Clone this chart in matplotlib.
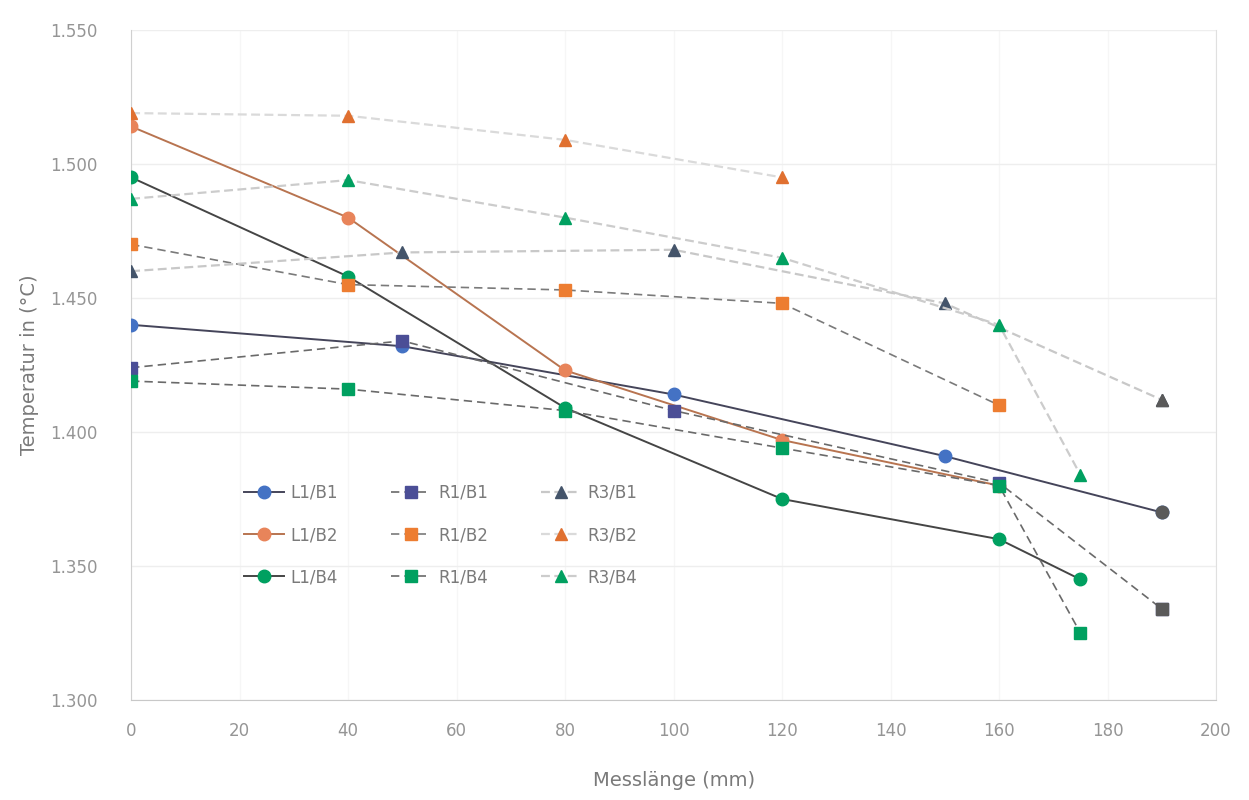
import matplotlib
matplotlib.use("Agg")
import matplotlib.pyplot as plt
from matplotlib.ticker import FuncFormatter

# ---- data (x in mm, temperature in °C) ----
x_L1B1 = [0, 50, 100, 150, 190]
y_L1B1 = [1440, 1432, 1414, 1391, 1370]
x_L1B2 = [0, 40, 80, 120, 160]
y_L1B2 = [1514, 1480, 1423, 1397, 1380]
x_L1B4 = [0, 40, 80, 120, 160, 175]
y_L1B4 = [1495, 1458, 1409, 1375, 1360, 1345]

x_R1B1 = [0, 50, 100, 160, 190]
y_R1B1 = [1424, 1434, 1408, 1381, 1334]
x_R1B2 = [0, 40, 80, 120, 160]
y_R1B2 = [1470, 1455, 1453, 1448, 1410]
x_R1B4 = [0, 40, 80, 120, 160, 175]
y_R1B4 = [1419, 1416, 1408, 1394, 1380, 1325]

x_R3B1 = [0, 50, 100, 150, 190]
y_R3B1 = [1460, 1467, 1468, 1448, 1412]
x_R3B2 = [0, 40, 80, 120]
y_R3B2 = [1519, 1518, 1509, 1495]
x_R3B4 = [0, 40, 80, 120, 160, 175]
y_R3B4 = [1487, 1494, 1480, 1465, 1440, 1384]

labels = ["L1/B1", "L1/B2", "L1/B4", "R1/B1", "R1/B2", "R1/B4", "R3/B1", "R3/B2", "R3/B4"]
xs = [x_L1B1, x_L1B2, x_L1B4, x_R1B1, x_R1B2, x_R1B4, x_R3B1, x_R3B2, x_R3B4]
ys = [y_L1B1, y_L1B2, y_L1B4, y_R1B1, y_R1B2, y_R1B4, y_R3B1, y_R3B2, y_R3B4]
gray_last = ["L1/B1", "R1/B1", "R3/B1"]

x_ticks = list(range(0, 201, 20))
y_ticks = [1300, 1350, 1400, 1450, 1500, 1550]

# ---- styles ----
mcolors = ["#4472C4", "#E8845A", "#00A060",
           "#4B4E96", "#ED7D31", "#00A060",
           "#44546A", "#E07030", "#00A060"]
markers = ["o", "o", "o", "s", "s", "s", "^", "^", "^"]
lcolors = ["#45455A", "#B87450", "#454545",
           "#6A6A6A", "#7A7A7A", "#6A6A6A",
           "#C8C8C8", "#DADADA", "#CCCCCC"]
lstyles = ["-", "-", "-",
           (0, (5, 3)), (0, (5, 3)), (0, (5, 3)),
           (0, (4, 2)), (0, (4, 2)), (0, (4, 2))]
lwidths = [1.4, 1.4, 1.4, 1.2, 1.2, 1.2, 1.6, 1.6, 1.6]

fig = plt.figure(figsize=(12.49, 8.0), dpi=100)
ax = fig.add_axes([0.105, 0.125, 0.8686, 0.8375])

handles = []
for lab, x, y, mc, mk, lc, ls, lw in zip(labels, xs, ys, mcolors, markers, lcolors, lstyles, lwidths):
    h, = ax.plot(x, y, color=lc, linestyle=ls, linewidth=lw, marker=mk,
                 markersize=9, markerfacecolor=mc, markeredgecolor=mc, label=lab, zorder=3)
    handles.append(h)
    if lab in gray_last:
        ax.plot(x[-1:], y[-1:], linestyle="none", marker=mk, markersize=9,
                markerfacecolor="#5A5A5A", markeredgecolor="#5A5A5A", zorder=4)

ax.set_xlim(0, 200)
ax.set_ylim(1300, 1550)
ax.set_xticks(x_ticks)
ax.set_yticks(y_ticks)
ax.yaxis.set_major_formatter(FuncFormatter(lambda v, p: f"{int(v):,}".replace(",", ".")))

ax.grid(axis="y", color="#EEEEEE", linewidth=1.0, zorder=0)
ax.grid(axis="x", color="#F6F6F6", linewidth=1.0, zorder=0)
ax.spines["top"].set_visible(False)
ax.spines["right"].set_color("#E0E0E0")
ax.spines["left"].set_color("#D0D0D0")
ax.spines["bottom"].set_color("#C8C8C8")

ax.tick_params(axis="both", length=0, colors="#959595", labelsize=12)
ax.tick_params(axis="y", pad=24)
ax.tick_params(axis="x", pad=16)

ax.set_xlabel("Messlänge (mm)", fontsize=14, color="#7A7A7A", labelpad=22)
ax.set_ylabel("Temperatur in (°C)", fontsize=14, color="#7A7A7A", labelpad=8)

leg = ax.legend(handles=handles, ncol=3, loc="upper left", bbox_to_anchor=(0.09, 0.345),
                frameon=False, fontsize=12, labelcolor="#7A7A7A",
                handlelength=2.4, columnspacing=3.2, labelspacing=1.45, handletextpad=0.4)

fig.savefig("out.png", dpi=100, facecolor="white")
